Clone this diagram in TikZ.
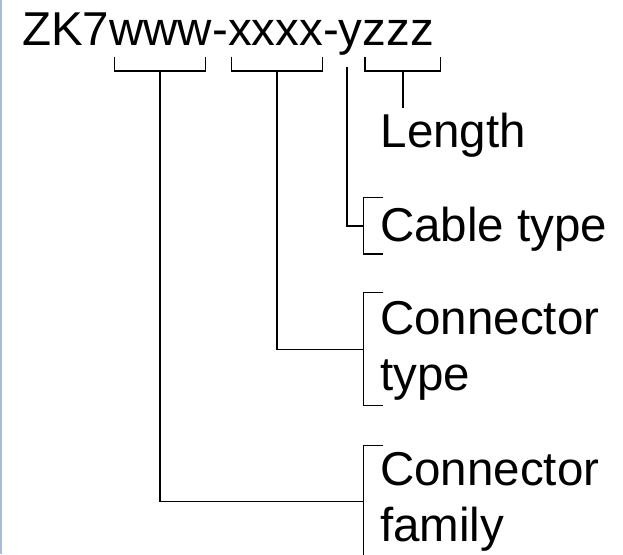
\documentclass[tikz,border=0pt]{standalone}
\usepackage{fontspec}
\setmainfont{Liberation Sans}
\usepackage{tikz}
\usetikzlibrary{positioning}
\definecolor{EdgeBlue}{HTML}{A9BDD6}

\tikzset{
    lbl/.style={anchor=base west, inner sep=0pt, font=\fontsize{47.5}{56}\selectfont},
    wire/.style={line width=1.3pt, black},
}

\begin{document}
\begin{tikzpicture}[x=1pt, y=-1pt]
        % Parameters
        \def\TickTop{56.7}
        \def\BarY{71}
        \def\BrX{363.3}
        \def\BrEnd{383.3}

        \useasboundingbox (0,0) rectangle (623,554);
        \clip (0,0) rectangle (623,554);

        % 0. Window edge
        \draw[EdgeBlue, line width=1.5pt] (0.75,0) -- (0.75,554);

        % 1. Part number
        \node[lbl] (code) at (22,45.7) {ZK7www-xxxx-yzzz};

        % Brackets under the groups
        \foreach \l/\r/\n in {114.3/205.7/www, 231.7/322.3/xxxx, 365/440.7/zzz} {
            \draw[wire] (\l,\TickTop) |- (\r,\BarY) -- (\r,\TickTop);
            \coordinate (\n) at ({(\l+\r)/2},\BarY);
        }
        \coordinate (ytop) at (347,66.7);

        % 2. Labels
        \node[lbl] (len) at (380.5,147.3) {Length};
        \node[lbl] (cbl) at (380,241.3) {Cable type};
        \node[lbl] (ctp) at (380,334) {Connector};
        \node[lbl] (ctp2) at (380,390) {type};
        \node[lbl] (cfm) at (380,485.5) {Connector};
        \node[lbl] (cfm2) at (380,541.5) {family};

        % Brackets in front of the labels
        \foreach \t/\b/\n in {197.7/254/cblbr, 292.7/405.7/ctpbr, 445.7/557.7/cfmbr} {
            \draw[wire] (\BrEnd,\t) -| (\BrX,\b) -- (\BrEnd,\b);
            \coordinate (\n) at (\BrX,{(\t+\b)/2});
        }

        % 3. Connectors
        \draw[wire] (zzz) -- ([yshift=5pt]zzz |- len.north);
        \draw[wire] (ytop) |- (cblbr);
        \draw[wire] (xxxx) |- (ctpbr);
        \draw[wire] (www) |- (cfmbr);

    \end{tikzpicture}
\end{document}
